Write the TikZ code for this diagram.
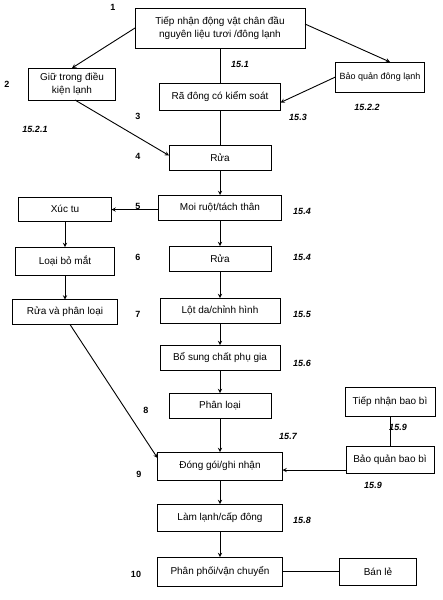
\documentclass[tikz,border=0pt]{standalone}
\usepackage{fontspec}
\setmainfont{Liberation Sans}
\usetikzlibrary{arrows.meta,positioning}

\begin{document}
\begin{tikzpicture}[
    x=1pt,y=-1pt,
    >=stealth,
    line width=0.9pt,
    font=\fontsize{10}{12.5}\selectfont,
    box/.style={rectangle,draw,minimum height=25pt,align=center,inner sep=2pt,outer sep=0pt},
    num/.style={font=\fontsize{9}{11}\selectfont\bfseries},
    ref/.style={font=\fontsize{9}{11}\selectfont\bfseries\itshape}
]
\useasboundingbox (0,0) rectangle (443,600);

% Main line
\node[box,minimum width=170pt,minimum height=40pt] (recv) at (220,28) {Tiếp nhận động vật chân đầu\\nguyên liệu tươi /đông lạnh};
\node[box,minimum width=121pt,minimum height=27pt,below=35pt of recv] (thaw) {Rã đông có kiểm soát};
\node[box,minimum width=102pt,below=35pt of thaw] (wash1) {Rửa};
\node[box,minimum width=123pt,below=25pt of wash1] (gut) {Moi ruột/tách thân};
\node[box,minimum width=102pt,below=26pt of gut] (wash2) {Rửa};
\node[box,minimum width=120pt,below=27pt of wash2] (skin) {Lột da/chỉnh hình};
\node[box,minimum width=120pt,below=22pt of skin] (addit) {Bổ sung chất phụ gia};
\node[box,minimum width=102pt,below=23pt of addit] (sort) {Phân loại};
\node[box,minimum width=125pt,minimum height=28pt,below=34pt of sort] (pack) {Đóng gói/ghi nhận};
\node[box,minimum width=125pt,minimum height=27pt,below=24pt of pack] (freeze) {Làm lạnh/cấp đông};
\node[box,minimum width=125pt,minimum height=29pt,below=26pt of freeze] (ship) {Phân phối/vận chuyển};

% Side branches
\node[box,minimum width=87pt,minimum height=32pt] (chill) at (72,84) {Giữ trong điều\\kiện lạnh};
\node[box,minimum width=89pt,minimum height=30pt,font=\fontsize{9}{11}\selectfont] (frozen) at (380,77) {Bảo quản đông lạnh};
\node[box,minimum width=93pt,minimum height=24pt] (tent) at (65,209) {Xúc tu};
\node[box,minimum width=99pt,minimum height=28pt] (eyes) at (65,261) {Loại bỏ mắt};
\node[box,minimum width=105pt] (wsort) at (65,312) {Rửa và phân loại};
\node[box,minimum width=90pt,minimum height=29pt] (pkrecv) at (390,402) {Tiếp nhận bao bì};
\node[box,minimum width=88pt,minimum height=27pt] (pkstore) at (390,460) {Bảo quản bao bì};
\node[box,minimum width=77pt,minimum height=27pt] (retail) at (378,571.5) {Bán lẻ};

% Step numbers
\node[num] (n1) at (113,7) {1};
\node[num] (n2) at (7,84) {2};
\node[num] (n3) at (138,116) {3};
\node[num] (n4) at (138,156) {4};
\node[num] (n5) at (138,206) {5};
\node[num] (n6) at (138,257) {6};
\node[num] (n7) at (138,314) {7};
\node[num] (n8) at (146,410) {8};
\node[num] (n9) at (139,474) {9};
\node[num] (n10) at (136,574) {10};

% Clause references
\node[ref] (r151) at (240,64) {15.1};
\node[ref] (r153) at (298,117) {15.3};
\node[ref] (r1522) at (367,107) {15.2.2};
\node[ref] (r1521) at (35,129) {15.2.1};
\node[ref] (r154a) at (302,211) {15.4};
\node[ref] (r154b) at (302,257) {15.4};
\node[ref] (r155) at (302,314) {15.5};
\node[ref] (r156) at (302,363) {15.6};
\node[ref] (r157) at (288,436) {15.7};
\node[ref] (r159a) at (398,427) {15.9};
\node[ref] (r159b) at (373,485) {15.9};
\node[ref] (r158) at (302,520) {15.8};

% Connectors
\draw[->] (recv.west) -- (chill.north);
\draw[->] ([yshift=4pt]recv.east) -- ([xshift=10pt]frozen.north);
\draw[->] (frozen.west) -- ([yshift=-6pt]thaw.east);
\draw (recv) -- (thaw);
\draw[->] ([xshift=3pt]chill.south) -- ([yshift=2pt]wash1.west);
\draw (thaw) -- (wash1);
\draw[->] (wash1) -- (gut);
\draw[->] ([yshift=-2pt]gut.west) -- ([yshift=-2pt]gut.west -| tent.east);
\draw[->] (tent) -- (eyes);
\draw[->] (eyes) -- (wsort);
\draw[->] (gut) -- (wash2);
\draw[->] (wash2) -- (skin);
\draw[->] (skin) -- (addit);
\draw[->] (addit) -- (sort);
\draw[->] (sort) -- (pack);
\draw[->] ([xshift=5pt]wsort.south) -- ([yshift=8pt]pack.west);
\draw (pkrecv) -- (pkstore);
\draw[->] ([yshift=-10pt]pkstore.west) -- ([yshift=-10pt]pkstore.west -| pack.east);
\draw[->] (pack) -- (freeze);
\draw[->] (freeze) -- (ship);
\draw (ship.east) -- (ship.east -| retail.west);

\end{tikzpicture}
\end{document}
